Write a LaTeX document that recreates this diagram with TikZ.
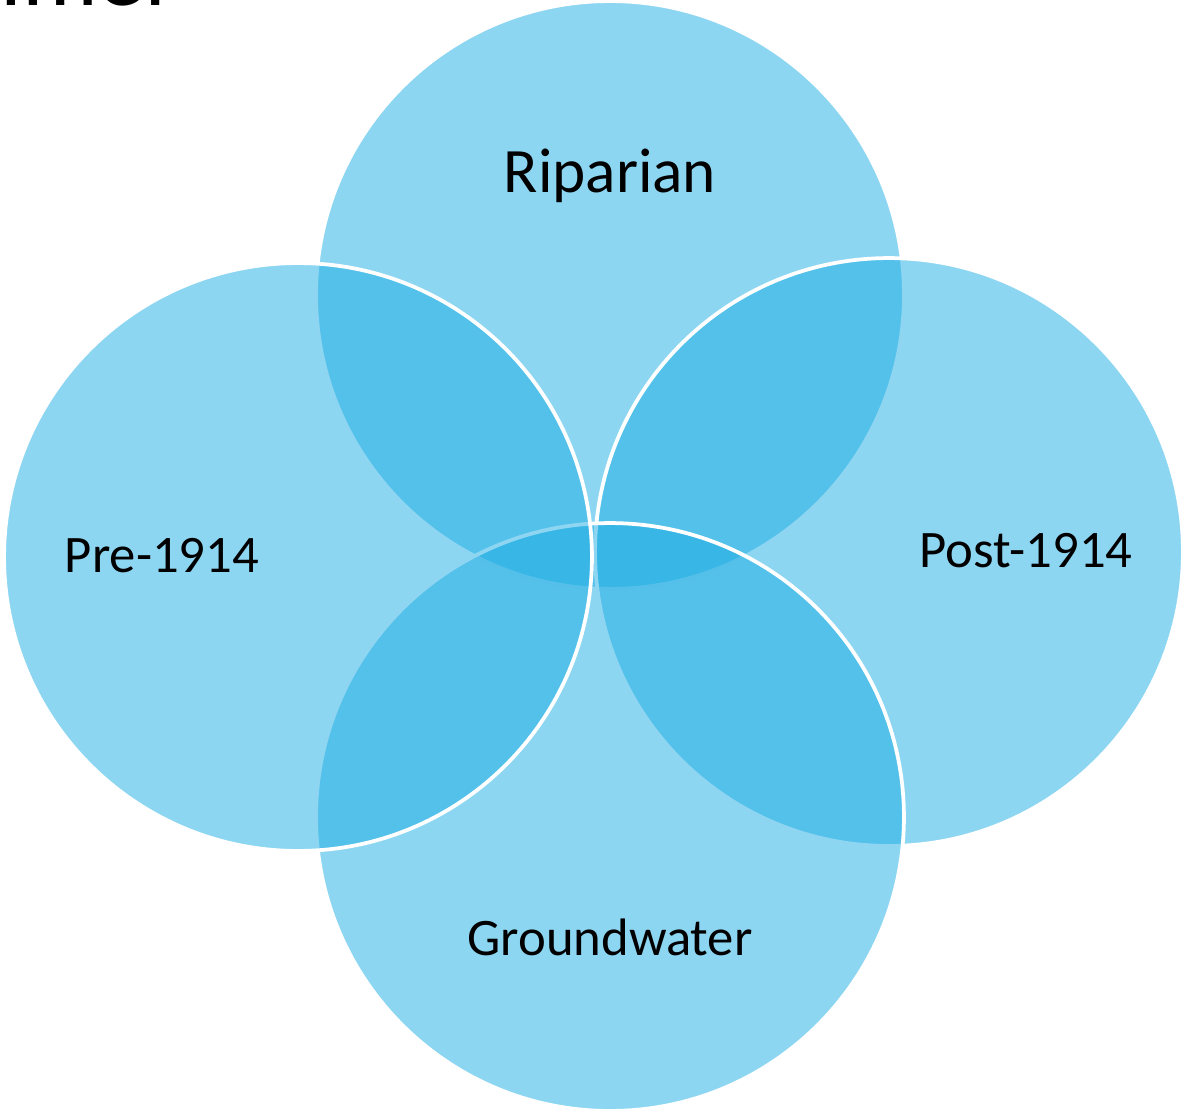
\documentclass[tikz,border=0pt]{standalone}
\usepackage{fontspec}
\setmainfont{Carlito}
\definecolor{waterblue}{RGB}{28,173,228}
\begin{document}
\begin{tikzpicture}
[x=0.02cm,y=-0.02cm,
  circledecorate/.style={shape=circle,minimum size=11.76cm,inner sep=0pt,%
    outer sep=0pt,draw=white,line width=0.075cm,fill=waterblue,fill opacity=0.5},
  labeldecorate/.style={anchor=base,inner sep=0pt,text=black}]
\useasboundingbox (0,0) rectangle (1183,1113);
%% title cut off at the top edge
\node (title) at (0,5) [anchor=base west,inner sep=0pt,%
  font=\fontsize{54}{64}\selectfont] {imer};
%% circles, drawn back to front
\foreach \nodename/\x/\y in {riparian/610/295, post/889/552,
  ground/610/817, pre/298/557} {
  \node (\nodename) at (\x,\y) [circledecorate] {};
}
%% labels
\foreach \nodename/\x/\y/\size/\labeltext in {riparianlabel/610/192/36/Riparian,
  prelabel/162/572/30/Pre-1914, postlabel/1026/567/30/Post-1914,
  groundlabel/610/955/30/Groundwater} {
  \node (\nodename) at (\x,\y) [labeldecorate,font=\fontsize{\size}{\size}\selectfont] {\labeltext};
}
\end{tikzpicture}
\end{document}
